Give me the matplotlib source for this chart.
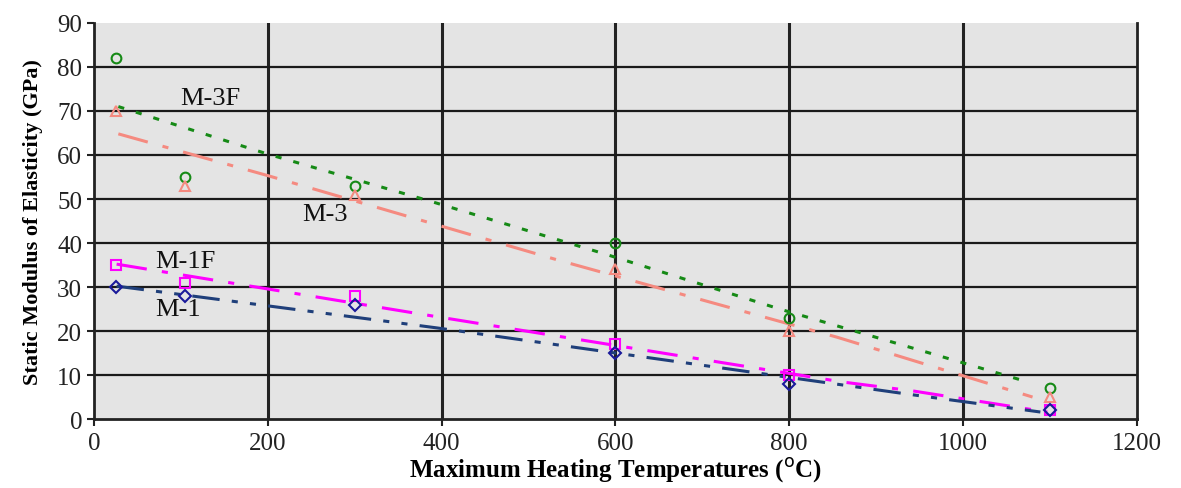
import matplotlib
matplotlib.use("Agg")
import matplotlib.pyplot as plt

plt.rcParams['font.family'] = ['Liberation Serif', 'DejaVu Serif']

# measured points
temps = [25, 105, 300, 600, 800, 1100]
m3f = [82, 55, 53, 40, 23, 7]
m3 = [70, 53, 51, 34, 20, 5]
m1f = [35, 31, 28, 17, 10, 2]
m1 = [30, 28, 26, 15, 8, 2]

# trend lines
m3f_tx = [28, 200, 387, 588, 789, 996, 1075]
m3f_ty = [71, 60.2, 49.5, 37.5, 25, 13, 8.4]
m3_tx = [28, 202, 536, 855, 1080]
m3_ty = [64.8, 55.2, 36, 18.6, 5.0]
m1f_tx = [26, 390, 862, 942, 1097]
m1f_ty = [35.2, 23.4, 8.4, 6.4, 1.6]
m1_tx = [26, 395, 755, 935, 1089]
m1_ty = [30.2, 20.7, 10.7, 5.7, 1.6]

labels = ["M-3F", "M-3", "M-1F", "M-1"]
label_pos = [(99, 73), (240, 46.5), (70, 36), (70, 25)]

fig = plt.figure(figsize=(11.81, 4.89), dpi=100)
ax = fig.add_axes([0.0796, 0.141, 0.883, 0.810])
ax.set_facecolor('#e4e4e4')

ax.set_xlim(0, 1200)
ax.set_ylim(0, 90)
ax.set_xticks(range(0, 1201, 200))
ax.set_yticks(range(0, 91, 10))

for x in range(200, 1200, 200):
    ax.axvline(x, color='#222222', lw=2.2, zorder=1)
for y in range(10, 90, 10):
    ax.axhline(y, color='#1a1a1a', lw=1.6, zorder=1)

green = '#168a16'
salmon = '#f58a80'
magenta = '#ff00ff'
navy = '#1f3f7a'

ax.plot(m3f_tx, m3f_ty, color=green, lw=2.2, ls=(0, (2, 4)), zorder=3)
ax.plot(m3_tx, m3_ty, color=salmon, lw=2.2, ls=(0, (10, 5, 2, 5)), zorder=3)
ax.plot(m1f_tx, m1f_ty, color=magenta, lw=2.2, ls=(0, (10, 5, 2, 5)), zorder=3)
ax.plot(m1_tx, m1_ty, color=navy, lw=2.2, ls=(0, (9, 4, 2, 4, 2, 4)), zorder=3)

ax.plot(temps, m3f, 'o', mfc='none', mec=green, ms=7, mew=1.5, zorder=4)
ax.plot(temps, m3, '^', mfc='none', mec=salmon, ms=7, mew=1.5, zorder=4)
ax.plot(temps, m1f, 's', mfc='none', mec=magenta, ms=7, mew=1.5, zorder=4)
ax.plot(temps, m1, 'D', mfc='none', mec='#1a1a9a', ms=6, mew=1.5, zorder=4)

for lab, (lx, ly) in zip(labels, label_pos):
    ax.text(lx, ly, lab, fontsize=19, color='#111111', ha='left', va='center', zorder=5)

for s in ['left', 'bottom', 'right']:
    ax.spines[s].set_linewidth(2)
    ax.spines[s].set_color('#222222')
ax.spines['top'].set_visible(False)
ax.tick_params(axis='both', direction='out', length=5, width=1.5, labelsize=18, colors='#222222')
ax.tick_params(axis='x', pad=4)

ax.set_xlabel('Maximum Heating Temperatures ($^{\\mathrm{o}}$C)', fontsize=18, fontweight='bold', labelpad=1)
ax.set_ylabel('Static Modulus of Elasticity (GPa)', fontsize=16, fontweight='bold', labelpad=10)

fig.savefig('out.png', dpi=100)
